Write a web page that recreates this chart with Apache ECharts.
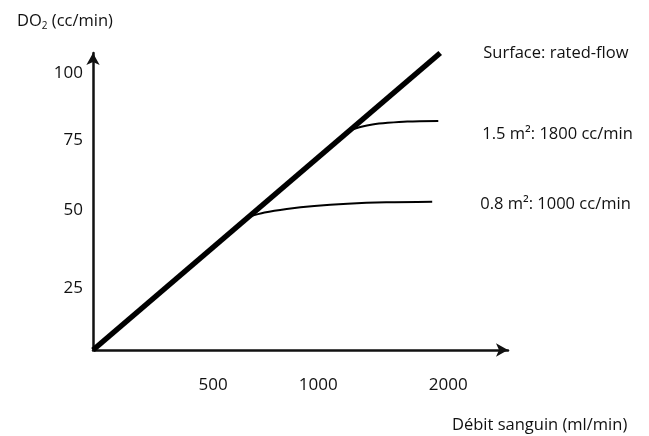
<!DOCTYPE html>
<html>
<head>
<meta charset="utf-8">
<script src="https://cdn.jsdelivr.net/npm/echarts@6/dist/echarts.min.js"></script>
<style>
html,body{margin:0;padding:0;background:#fff;}
#chart{width:649px;height:436px;}
</style>
</head>
<body>
<div id="chart"></div>
<script>
// Schematic axis units
const xTickValues = [43.4, 81.4, 128.4];
const xTickLabels = ['500', '1000', '2000'];
const yTickValues = [22.4, 50.5, 75.8, 100];
const yTickLabels = ['25', '50', '75', '100'];
const xAxisTitle = 'Débit sanguin (ml/min)';
const yAxisTitle = 'DO{sub|2} (cc/min)';

const seriesNames = ['Surface: rated-flow', '1.5 m²: 1800 cc/min', '0.8 m²: 1000 cc/min'];
const ratedFlow = [[0, 0], [125.5, 107.2]];
const surface15 = [[93.0, 79.4], [97, 80.6], [101, 81.4], [106.5, 82.0], [113.6, 82.5], [124.8, 82.7]];
const surface08 = [[56.1, 48.0], [62, 49.6], [70, 50.9], [80, 52.0], [92, 52.8], [106, 53.3], [122.6, 53.5]];

const FONT = 'Open Sans';
const TXT = '#111';
const chart = echarts.init(document.getElementById('chart'), null, {renderer: 'canvas'});

function lookup(values, labels) {
  return function (v) {
    for (let i = 0; i < values.length; i++) {
      if (Math.abs(values[i] - v) < 1e-6) return labels[i];
    }
    return '';
  };
}

const labelStyle = {fontFamily: FONT, fontSize: 16.5, color: TXT};

chart.setOption({
  animation: false,
  backgroundColor: '#fff',
  grid: {left: 93, right: 141, top: 53, bottom: 86, containLabel: false},
  xAxis: {
    type: 'value', min: 0, max: 150,
    axisLine: {show: true, lineStyle: {color: '#111', width: 2.5}, symbol: ['none', 'arrow'], symbolSize: [10, 12]},
    axisTick: {show: false},
    splitLine: {show: false},
    axisLabel: {
      customValues: xTickValues,
      formatter: lookup(xTickValues, xTickLabels),
      margin: 27, fontFamily: FONT, fontSize: 17, color: TXT
    }
  },
  yAxis: {
    type: 'value', min: 0, max: 107.2,
    axisLine: {show: true, lineStyle: {color: '#111', width: 2.5}, symbol: ['none', 'arrow'], symbolSize: [10, 12]},
    axisTick: {show: false},
    splitLine: {show: false},
    axisLabel: {
      customValues: yTickValues,
      formatter: lookup(yTickValues, yTickLabels),
      margin: 10, fontFamily: FONT, fontSize: 17, color: TXT
    },
    name: yAxisTitle,
    nameLocation: 'end',
    nameGap: 22,
    nameTextStyle: {
      fontFamily: FONT, fontSize: 16.5, color: TXT, padding: [0, 56, 0, 0],
      rich: {sub: {fontFamily: FONT, fontSize: 10, color: TXT, padding: [9, 0, 0, 0]}}
    }
  },
  graphic: [{
    type: 'text', left: 452, top: 417,
    style: {text: xAxisTitle, fontFamily: FONT, fontSize: 16.5, fill: TXT}
  }],
  series: [
    {
      name: seriesNames[0], type: 'line', data: ratedFlow, showSymbol: false, clip: false,
      lineStyle: {color: '#000', width: 5.5},
      endLabel: {show: true, formatter: seriesNames[0], distance: 43, offset: [0, 0], ...labelStyle}
    },
    {
      name: seriesNames[1], type: 'line', data: surface15, showSymbol: false, clip: false,
      smooth: 0.3,
      lineStyle: {color: '#000', width: 2},
      endLabel: {show: true, formatter: seriesNames[1], distance: 44, offset: [0, 13], ...labelStyle}
    },
    {
      name: seriesNames[2], type: 'line', data: surface08, showSymbol: false, clip: false,
      smooth: 0.3,
      lineStyle: {color: '#000', width: 2},
      endLabel: {show: true, formatter: seriesNames[2], distance: 48, offset: [0, 3], ...labelStyle}
    }
  ]
});
</script>
</body>
</html>
